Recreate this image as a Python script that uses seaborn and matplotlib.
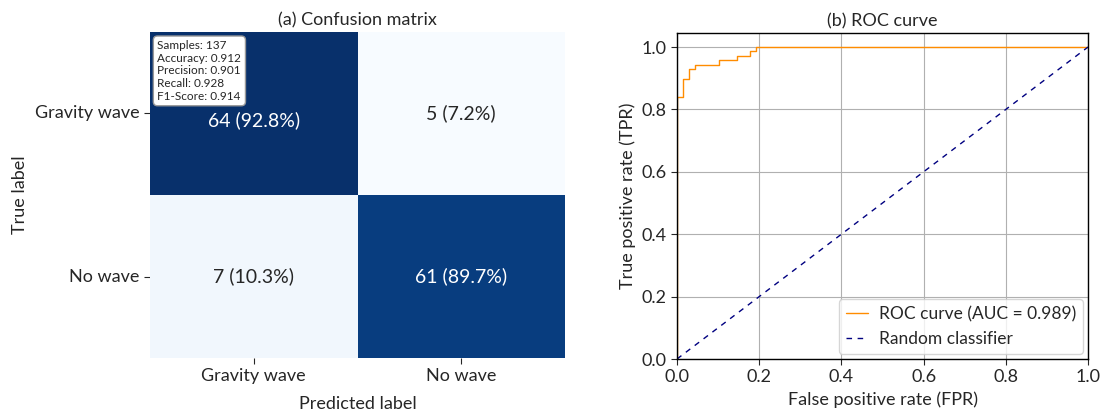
import numpy as np
import pandas as pd
import matplotlib
matplotlib.use("Agg")
import matplotlib.pyplot as plt
import seaborn as sns

# ---- data ----
class_labels = ["Gravity wave", "No wave"]
cm_counts = [[64, 5], [7, 61]]
cm_percent = [[92.8, 7.2], [10.3, 89.7]]
stats_text = ["Samples: 137", "Accuracy: 0.912", "Precision: 0.901",
              "Recall: 0.928", "F1-Score: 0.914"]
roc_fpr = [0.0, 0.0, 0.0147, 0.0147, 0.0294, 0.0294, 0.0441, 0.0441, 0.1029, 0.1029,
           0.1471, 0.1471, 0.1765, 0.1765, 0.1912, 0.1912, 1.0]
roc_tpr = [0.0, 0.841, 0.841, 0.899, 0.899, 0.928, 0.928, 0.942, 0.942, 0.957,
           0.957, 0.971, 0.971, 0.986, 0.986, 1.0, 1.0]
roc_auc = 0.989
diag = [0.0, 1.0]
ticks = [0.0, 0.2, 0.4, 0.6, 0.8, 1.0]

sns.set_style("white")
plt.rcParams['font.family'] = ['Lato', 'DejaVu Sans']

FS = 13
fig = plt.figure(figsize=(11.06, 4.19), dpi=100)
ax1 = fig.add_axes([150/1106, 1-358/419, 415/1106, 326/419])
ax2 = fig.add_axes([677/1106, 1-359/419, 411/1106, 326/419])

df = pd.DataFrame(cm_counts, index=class_labels, columns=class_labels)
annot = np.array([[f"{cm_counts[i][j]} ({cm_percent[i][j]:.1f}%)" for j in range(2)] for i in range(2)])
sns.heatmap(df, annot=annot, fmt="", cmap="Blues", cbar=False, ax=ax1,
            annot_kws={"fontsize": 14})
# nudge the top-left annotation down slightly so it clears the stats box
t0 = ax1.texts[0]
x0, y0 = t0.get_position()
t0.set_position((x0, y0 + 0.04))

ax1.set_title("(a) Confusion matrix", fontsize=FS, pad=5)
ax1.set_xlabel("Predicted label", fontsize=FS, labelpad=8)
ax1.set_ylabel("True label", fontsize=FS, labelpad=5)
ax1.tick_params(axis="both", labelsize=FS, length=4, left=True, bottom=True)
ax1.set_yticklabels(class_labels, rotation=0)
ax1.text(0.018, 0.975, "\n".join(stats_text), transform=ax1.transAxes, fontsize=8.5,
         va="top", ha="left", linespacing=1.18,
         bbox=dict(boxstyle="round,pad=0.35", facecolor="white", edgecolor="#999999", alpha=1))

roc_df = pd.DataFrame({"fpr": roc_fpr, "tpr": roc_tpr})
sns.lineplot(data=roc_df, x="fpr", y="tpr", ax=ax2, color="darkorange", lw=1,
             sort=False, estimator=None, label=f"ROC curve (AUC = {roc_auc:.3f})")
ax2.plot(diag, diag, color="navy", lw=1, ls=(0, (4, 4)), label="Random classifier")
ax2.set_xlim(0, 1)
ax2.set_ylim(0, 1.045)
ax2.set_xticks(ticks)
ax2.set_yticks(ticks)
ax2.grid(True, color="#b0b0b0", lw=0.8)
ax2.set_title("(b) ROC curve", fontsize=FS, pad=5)
ax2.set_xlabel("False positive rate (FPR)", fontsize=FS)
ax2.set_ylabel("True positive rate (TPR)", fontsize=FS)
ax2.tick_params(axis="both", labelsize=FS, length=4, left=True, bottom=True)
for s in ax2.spines.values():
    s.set_color("black")
    s.set_linewidth(1)
ax2.legend(loc="lower right", fontsize=12.5, frameon=True, handlelength=1.3,
           handletextpad=0.6, borderaxespad=0.3)

fig.savefig("out.png", dpi=100)
